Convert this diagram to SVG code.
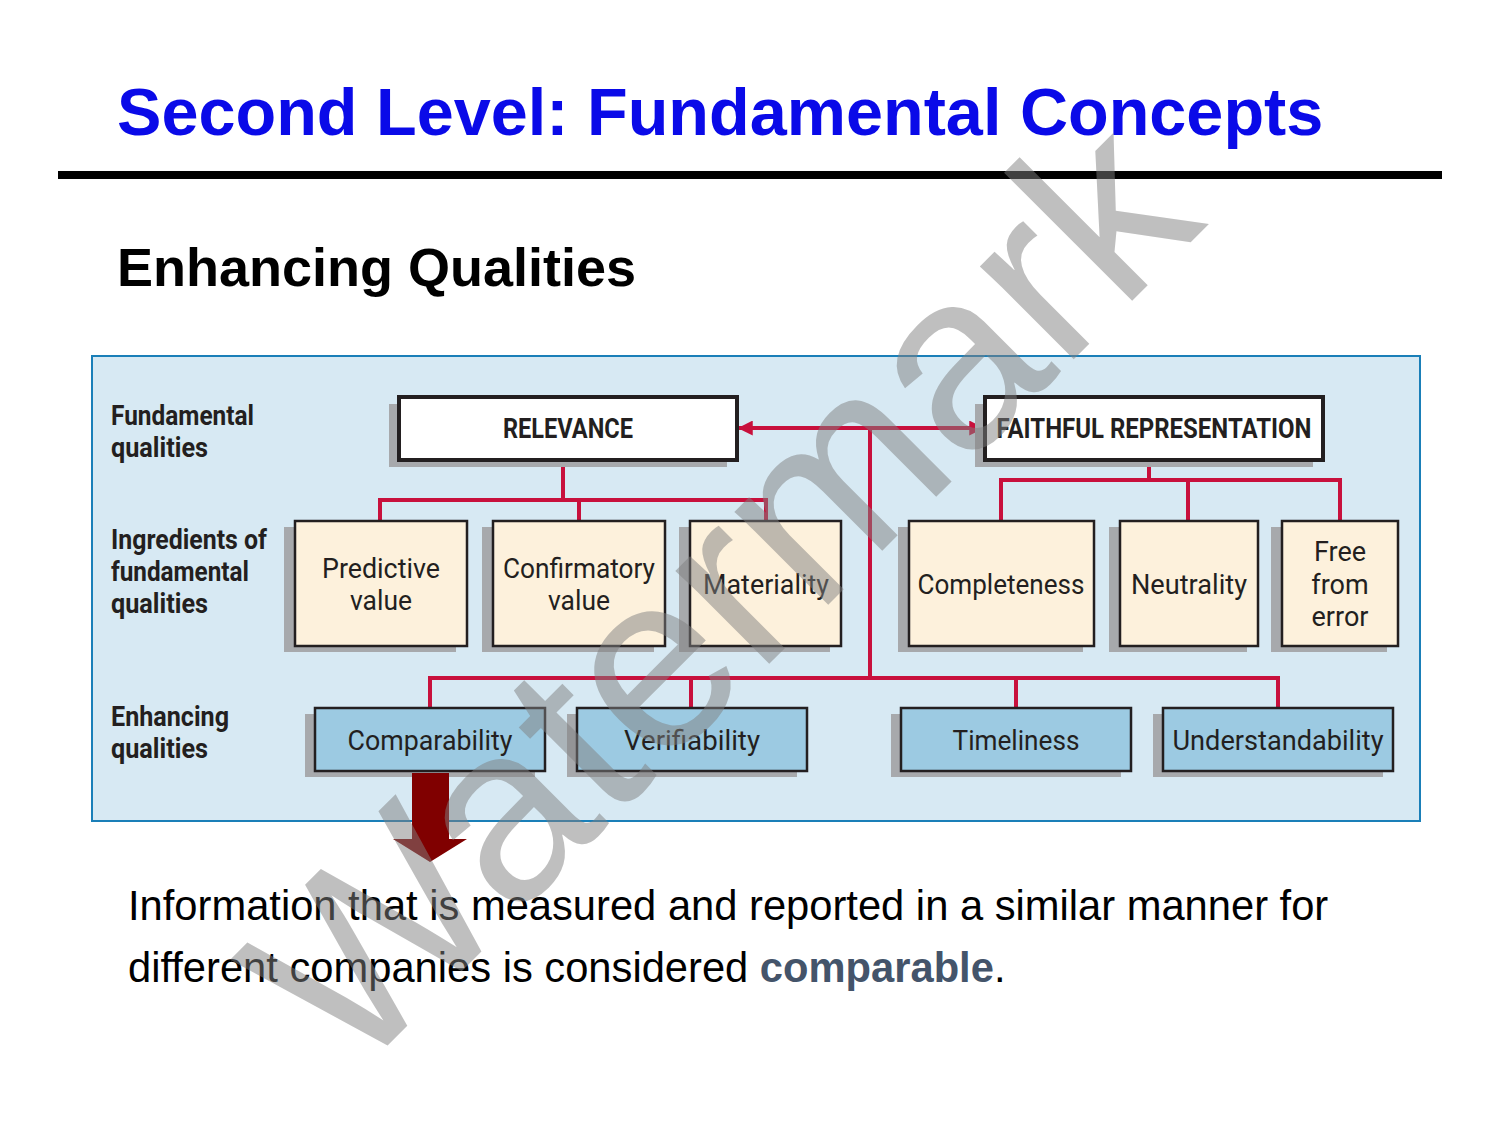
<svg xmlns="http://www.w3.org/2000/svg" width="1500" height="1125" viewBox="0 0 1500 1125">
<defs>
<style>
.title{font-family:"Liberation Sans",Arial,sans-serif;font-weight:bold;font-size:66.6px;fill:#0a0ae8}
.sub{font-family:"Liberation Sans",Arial,sans-serif;font-weight:bold;font-size:54px;fill:#000}
.body{font-family:"Liberation Sans",Arial,sans-serif;font-size:41.7px;fill:#000}
.lbl{font-family:Roboto,"Liberation Sans",sans-serif;font-weight:bold;font-size:27px;fill:#231f20}
.hd{font-family:Roboto,"Liberation Sans",sans-serif;font-weight:bold;font-size:27px;fill:#231f20;text-anchor:middle}
.tx{font-family:Roboto,"Liberation Sans",sans-serif;font-size:27px;fill:#231f20;text-anchor:middle}
.sh{fill:#a7a9ac}
.bw{fill:#fff;stroke:#231f20;stroke-width:4}
.by{fill:#fdf1dc;stroke:#231f20;stroke-width:2.5}
.bb{fill:#9ccae2;stroke:#231f20;stroke-width:2.5}
.conn{stroke:#c8103c;stroke-width:4;fill:none}
</style>
<marker id="ah" viewBox="0 0 12 12" refX="11" refY="6" markerWidth="15" markerHeight="15" markerUnits="userSpaceOnUse" orient="auto-start-reverse">
<path d="M0,0 L12,6 L0,12 Z" fill="#c8103c"/>
</marker>
</defs>
<rect width="1500" height="1125" fill="#fff"/>
<text class="title" x="117" y="135">Second Level: Fundamental Concepts</text>
<rect x="58" y="171" width="1384" height="8" fill="#000"/>
<text class="sub" x="117" y="286">Enhancing Qualities</text>
<rect x="92" y="356" width="1328" height="465" fill="#d7e9f3" stroke="#1a7fb8" stroke-width="2"/>
<g id="row-labels">
<text class="lbl" x="111" y="425" textLength="143" lengthAdjust="spacingAndGlyphs">Fundamental</text>
<text class="lbl" x="111" y="457" textLength="97" lengthAdjust="spacingAndGlyphs">qualities</text>
<text class="lbl" x="111" y="549" textLength="156" lengthAdjust="spacingAndGlyphs">Ingredients of</text>
<text class="lbl" x="111" y="581" textLength="138" lengthAdjust="spacingAndGlyphs">fundamental</text>
<text class="lbl" x="111" y="613" textLength="97" lengthAdjust="spacingAndGlyphs">qualities</text>
<text class="lbl" x="111" y="726" textLength="118" lengthAdjust="spacingAndGlyphs">Enhancing</text>
<text class="lbl" x="111" y="758" textLength="97" lengthAdjust="spacingAndGlyphs">qualities</text>
</g>
<g id="connectors">
<path class="conn" d="M563,460 V500 M380,521 V500 H766 V521 M579,500 V521"/>
<path class="conn" d="M1149,460 V480 M1001,521 V480 H1340 V521 M1188,480 V521"/>
<line class="conn" x1="739" y1="428" x2="983" y2="428" marker-start="url(#ah)" marker-end="url(#ah)"/>
<path class="conn" d="M870,428 V678 M430,708 V678 H1278 V708 M691,678 V708 M1016,678 V708"/>
</g>
<g id="relevance"><rect class="sh" x="389" y="404" width="338" height="63"/><rect class="bw" x="399" y="397" width="338" height="63"/><text class="hd" x="568" y="438" textLength="130" lengthAdjust="spacingAndGlyphs">RELEVANCE</text></g>
<g id="faithful"><rect class="sh" x="975" y="404" width="338" height="63"/><rect class="bw" x="985" y="397" width="338" height="63"/><text class="hd" x="1154" y="438" textLength="315" lengthAdjust="spacingAndGlyphs">FAITHFUL REPRESENTATION</text></g>
<g id="predictive"><rect class="sh" x="284" y="527" width="172" height="125"/><rect class="by" x="295" y="521" width="172" height="125"/><text class="tx" x="381" y="578" textLength="118" lengthAdjust="spacingAndGlyphs">Predictive</text><text class="tx" x="381" y="610" textLength="62" lengthAdjust="spacingAndGlyphs">value</text></g>
<g id="confirmatory"><rect class="sh" x="482" y="527" width="172" height="125"/><rect class="by" x="493" y="521" width="172" height="125"/><text class="tx" x="579" y="578" textLength="152" lengthAdjust="spacingAndGlyphs">Confirmatory</text><text class="tx" x="579" y="610" textLength="62" lengthAdjust="spacingAndGlyphs">value</text></g>
<g id="materiality"><rect class="sh" x="679" y="527" width="151" height="125"/><rect class="by" x="690" y="521" width="151" height="125"/><text class="tx" x="766" y="594" textLength="126" lengthAdjust="spacingAndGlyphs">Materiality</text></g>
<g id="completeness"><rect class="sh" x="898" y="527" width="185" height="125"/><rect class="by" x="909" y="521" width="185" height="125"/><text class="tx" x="1001" y="594" textLength="167" lengthAdjust="spacingAndGlyphs">Completeness</text></g>
<g id="neutrality"><rect class="sh" x="1109" y="527" width="138" height="125"/><rect class="by" x="1120" y="521" width="138" height="125"/><text class="tx" x="1189" y="594" textLength="116" lengthAdjust="spacingAndGlyphs">Neutrality</text></g>
<g id="free-from-error"><rect class="sh" x="1271" y="527" width="116" height="125"/><rect class="by" x="1282" y="521" width="116" height="125"/><text class="tx" x="1340" y="561">Free</text><text class="tx" x="1340" y="594">from</text><text class="tx" x="1340" y="626">error</text></g>
<g id="comparability"><rect class="sh" x="305" y="714" width="230" height="63"/><rect class="bb" x="315" y="708" width="230" height="63"/><text class="tx" x="430" y="750" textLength="165" lengthAdjust="spacingAndGlyphs">Comparability</text></g>
<g id="verifiability"><rect class="sh" x="567" y="714" width="230" height="63"/><rect class="bb" x="577" y="708" width="230" height="63"/><text class="tx" x="692" y="750" textLength="136" lengthAdjust="spacingAndGlyphs">Verifiability</text></g>
<g id="timeliness"><rect class="sh" x="891" y="714" width="230" height="63"/><rect class="bb" x="901" y="708" width="230" height="63"/><text class="tx" x="1016" y="750" textLength="127" lengthAdjust="spacingAndGlyphs">Timeliness</text></g>
<g id="understandability"><rect class="sh" x="1153" y="714" width="230" height="63"/><rect class="bb" x="1163" y="708" width="230" height="63"/><text class="tx" x="1278" y="750" textLength="211" lengthAdjust="spacingAndGlyphs">Understandability</text></g>
<polygon points="412,773 449,773 449,839 467,839 430,862 393,839 412,839" fill="#800000"/>
<text class="body" x="128" y="920">Information that is measured and reported in a similar manner for</text>
<text class="body" x="128" y="982">different companies is considered <tspan font-weight="bold" fill="#44546a">comparable</tspan>.</text>
<text x="351" y="1082" transform="rotate(-45 351 1082)" font-family="'Liberation Sans',Arial,sans-serif" font-size="250" fill="#808080" fill-opacity="0.5">Watermark</text>
</svg>
